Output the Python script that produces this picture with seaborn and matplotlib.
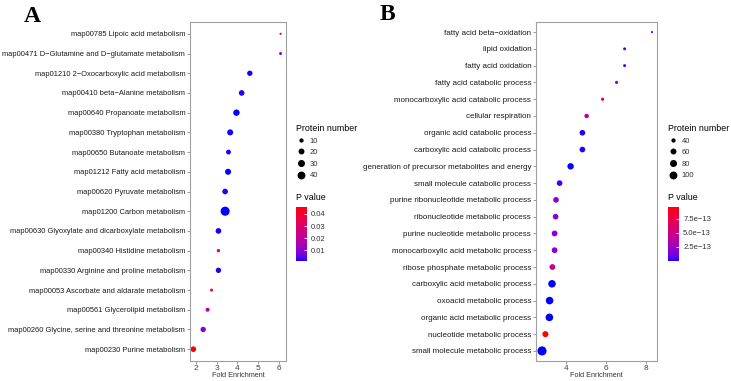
import numpy as np
import pandas as pd
import matplotlib
matplotlib.use("Agg")
import matplotlib.pyplot as plt
import seaborn as sns
from matplotlib.colors import ListedColormap, Normalize, PowerNorm
from matplotlib.lines import Line2D
from matplotlib.cm import ScalarMappable

# ---------------- data ----------------
a_terms = [
    "map00785 Lipoic acid metabolism",
    "map00471 D\u2212Glutamine and D\u2212glutamate metabolism",
    "map01210 2\u2212Oxocarboxylic acid metabolism",
    "map00410 beta\u2212Alanine metabolism",
    "map00640 Propanoate metabolism",
    "map00380 Tryptophan metabolism",
    "map00650 Butanoate metabolism",
    "map01212 Fatty acid metabolism",
    "map00620 Pyruvate metabolism",
    "map01200 Carbon metabolism",
    "map00630 Glyoxylate and dicarboxylate metabolism",
    "map00340 Histidine metabolism",
    "map00330 Arginine and proline metabolism",
    "map00053 Ascorbate and aldarate metabolism",
    "map00561 Glycerolipid metabolism",
    "map00260 Glycine, serine and threonine metabolism",
    "map00230 Purine metabolism",
]
a_fold = [6.06, 6.06, 4.59, 4.20, 3.95, 3.65, 3.57, 3.55, 3.41, 3.41,
          3.09, 3.09, 3.09, 2.76, 2.57, 2.36, 1.89]
a_count = [5, 6, 16, 18, 24, 21, 13, 21, 18, 58, 18, 7, 16, 6, 9, 16, 18]
a_pval = [0.033, 0.009, 0.0012, 0.0015, 0.0009, 0.0011, 0.0016, 0.0010,
          0.0013, 0.0009, 0.0012, 0.035, 0.0014, 0.043, 0.017, 0.008, 0.0458]
a_size_ticks = [10, 20, 30, 40]
a_p_ticks = [0.01, 0.02, 0.03, 0.04]
a_p_ticklabels = ["0.01", "0.02", "0.03", "0.04"]

b_terms = [
    "fatty acid beta\u2212oxidation",
    "lipid oxidation",
    "fatty acid oxidation",
    "fatty acid catabolic process",
    "monocarboxylic acid catabolic process",
    "cellular respiration",
    "organic acid catabolic process",
    "carboxylic acid catabolic process",
    "generation of precursor metabolites and energy",
    "small molecule catabolic process",
    "purine ribonucleotide metabolic process",
    "ribonucleotide metabolic process",
    "purine nucleotide metabolic process",
    "monocarboxylic acid metabolic process",
    "ribose phosphate metabolic process",
    "carboxylic acid metabolic process",
    "oxoacid metabolic process",
    "organic acid metabolic process",
    "nucleotide metabolic process",
    "small molecule metabolic process",
]
b_fold = [8.30, 6.93, 6.93, 6.53, 5.83, 5.03, 4.82, 4.82, 4.23, 3.68,
          3.50, 3.48, 3.43, 3.43, 3.32, 3.30, 3.18, 3.17, 2.97, 2.80]
b_count = [30, 32, 32, 33, 33, 42, 56, 56, 68, 56,
           56, 56, 58, 58, 58, 91, 92, 93, 62, 135]
b_pval = [0.9e-13, 0.5e-13, 0.5e-13, 2.1e-13, 7.0e-13, 4.0e-13, 0.1e-13, 0.1e-13,
          0.0, 0.3e-13, 1.9e-13, 1.8e-13, 1.8e-13, 1.8e-13, 4.4e-13, 0.02e-13,
          0.02e-13, 0.02e-13, 9.6e-13, 0.0]
b_size_ticks = [40, 60, 80, 100]
b_p_ticks = [2.5e-13, 5.0e-13, 7.5e-13]
b_p_ticklabels = ["2.5e\u221213", "5.0e\u221213", "7.5e\u221213"]

x_label = "Fold Enrichment"
size_title = "Protein number"
color_title = "P value"

# ---------------- colour scale (blue -> red, interpolated in Lab) ----------------
_M = np.array([[0.4124564, 0.3575761, 0.1804375],
               [0.2126729, 0.7151522, 0.0721750],
               [0.0193339, 0.1191920, 0.9503041]])
_WP = np.array([0.95047, 1.0, 1.08883])


def srgb_to_lab(rgb):
    rgb = np.asarray(rgb, float)
    lin = np.where(rgb <= 0.04045, rgb / 12.92, ((rgb + 0.055) / 1.055) ** 2.4)
    t = (_M @ lin) / _WP
    d = 6 / 29
    f = np.where(t > d ** 3, np.cbrt(t), t / (3 * d * d) + 4 / 29)
    return np.array([116 * f[1] - 16, 500 * (f[0] - f[1]), 200 * (f[1] - f[2])])


def lab_to_srgb(lab):
    L, a, b = lab
    fy = (L + 16) / 116
    f = np.array([fy + a / 500, fy, fy - b / 200])
    d = 6 / 29
    t = np.where(f > d, f ** 3, 3 * d * d * (f - 4 / 29))
    lin = np.clip(np.linalg.inv(_M) @ (t * _WP), 0, 1)
    rgb = np.where(lin <= 0.0031308, 12.92 * lin, 1.055 * lin ** (1 / 2.4) - 0.055)
    return np.clip(rgb, 0, 1)


lo_lab = srgb_to_lab([0, 0, 1])
hi_lab = srgb_to_lab([1, 0, 0])
cmap = ListedColormap([lab_to_srgb(lo_lab + (hi_lab - lo_lab) * u)
                       for u in np.linspace(0, 1, 256)])

# ---------------- figure ----------------
W, H = 731, 381
fig = plt.figure(figsize=(W / 100, H / 100), dpi=100)
FONT = "Liberation Sans"
plt.rcParams["font.family"] = [FONT, "DejaVu Sans"]


def px_axes(l, t, r, b):
    return fig.add_axes([l / W, 1 - b / H, (r - l) / W, (b - t) / H])


SMIN, SMAX = 2.5, 43.0


def panel(terms, fold, count, pval, ax_box, xlim, xticks, leg_x,
          size_ticks, p_ticks, p_labels, letter, letter_x, letter_y, ylab_size):
    df = pd.DataFrame({"term": terms, "fold": fold, "count": count, "p": pval})
    ax = px_axes(*ax_box)
    snorm = PowerNorm(0.75, vmin=min(count), vmax=max(count))
    cnorm = Normalize(vmin=min(pval), vmax=max(pval))
    sns.scatterplot(data=df, x="fold", y="term", size="count", hue="p",
                    sizes=(SMIN, SMAX), size_norm=snorm, palette=cmap,
                    hue_norm=cnorm, linewidth=0, alpha=1, legend=False, ax=ax)
    n = len(terms)
    ax.set_ylim(n - 0.4, -0.6)
    ax.set_xlim(*xlim)
    ax.set_xticks(xticks)
    ax.set_xlabel(x_label, fontsize=5.2, color="#333333", labelpad=0)
    ax.set_ylabel("")
    ax.set_facecolor("white")
    for s in ax.spines.values():
        s.set_color("#a0a0a0")
        s.set_linewidth(0.8)
    ax.tick_params(axis="both", length=2, width=0.6, color="#888888", pad=1.5)
    ax.tick_params(axis="y", labelsize=ylab_size, labelcolor="#1a1a1a")
    ax.tick_params(axis="x", labelsize=6.0, labelcolor="#444444", pad=1)
    ax.grid(False)

    # size legend
    handles = []
    for v in size_ticks:
        s = SMIN + float(snorm(v)) * (SMAX - SMIN)
        handles.append(Line2D([], [], ls="", marker="o", color="black",
                              markersize=np.sqrt(s), markeredgewidth=0))
    leg = ax.legend(handles, [str(v) for v in size_ticks], title=size_title,
                    loc="upper left", bbox_to_anchor=(leg_x / W, 1 - 124 / H),
                    bbox_transform=fig.transFigure, frameon=False,
                    fontsize=5.5, title_fontsize=6.4, alignment="left",
                    handlelength=1.2, handletextpad=0.6, labelspacing=0.55,
                    borderpad=0, borderaxespad=0)
    for t in leg.get_texts():
        t.set_color("#333333")

    # colour bar
    fig.text(leg_x / W, 1 - 198 / H, color_title, fontsize=6.4, va="center", ha="left")
    cax = px_axes(leg_x, 207, leg_x + 11, 261)
    cb = fig.colorbar(ScalarMappable(norm=cnorm, cmap=cmap), cax=cax)
    cb.outline.set_visible(False)
    cb.set_ticks(p_ticks)
    cb.set_ticklabels(p_labels)
    cax.tick_params(length=2.5, width=0.6, color="white", direction="in",
                    labelsize=5.5, labelcolor="#333333", pad=3)

    fig.text(letter_x / W, 1 - letter_y / H, letter, fontsize=17, fontweight="bold",
             family="Liberation Serif", va="center", ha="left")
    return ax


panel(a_terms, a_fold, a_count, a_pval, (190, 22, 286, 361), (1.73, 6.32),
      [2, 3, 4, 5, 6], 296, a_size_ticks, a_p_ticks, a_p_ticklabels, "A", 24, 17, 5.4)
panel(b_terms, b_fold, b_count, b_pval, (536, 22, 657, 361), (2.5, 8.55),
      [4, 6, 8], 668, b_size_ticks, b_p_ticks, b_p_ticklabels, "B", 380, 14, 5.8)

fig.savefig("out.png", dpi=100, facecolor="white")
